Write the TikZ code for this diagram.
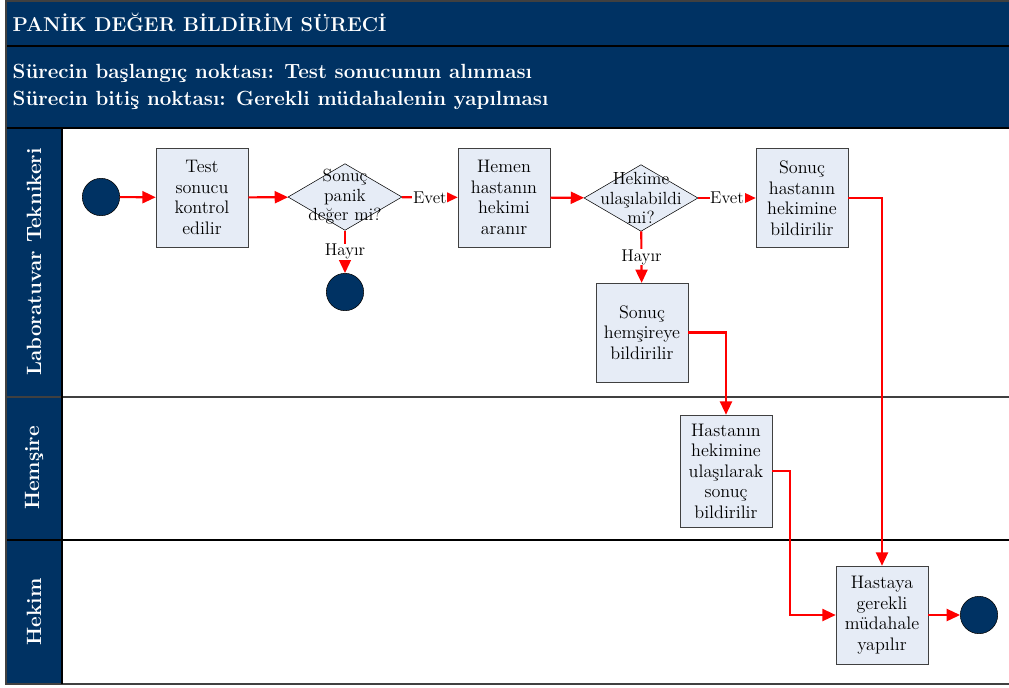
\documentclass[tikz,border=0pt]{standalone}
\usetikzlibrary{shapes.geometric, arrows.meta}

\definecolor{navy}{RGB}{0,50,99}
\definecolor{boxfill}{RGB}{230,236,246}

\begin{document}
\begin{tikzpicture}[x=0.75pt, y=-0.75pt,
    task/.style={draw=black!75, fill=boxfill, minimum width=69pt, minimum height=74pt,
        align=center, inner sep=1pt, font=\fontsize{13.6}{15.4}\selectfont},
    decision/.style={diamond, draw=black, fill=boxfill, minimum width=85.5pt,
        minimum height=50pt, inner sep=0pt},
    dtext/.style={align=center, font=\fontsize{13.2}{14.6}\selectfont},
    event/.style={circle, draw=black, fill=navy, minimum size=28pt, inner sep=0pt},
    flow/.style={draw=red, line width=1.6pt, -{Triangle[length=10pt,width=9pt]}},
    lbl/.style={fill=white, inner sep=0.5pt, font=\fontsize{12.8}{14}\selectfont},
    lane/.style={rotate=90, text=white, font=\bfseries\fontsize{15.5}{17}\selectfont}]
    \useasboundingbox (0,0) rectangle (1009,687);
    \clip (0,0) rectangle (1009,687);

    % header and swimlanes
    \fill[navy] (6,1) rectangle (1015,128);
    \fill[navy] (6,128) rectangle (62,684);
    \draw[black, line width=1.5pt] (6,46) -- (1015,46);
    \draw[black, line width=1.2pt] (6,128) -- (1015,128);
    \draw[black!75, line width=1.5pt] (6,397) -- (1015,397);
    \draw[black, line width=0.8pt] (6,540) -- (1015,540);
    \draw[black!75, line width=1.5pt] (6,1) rectangle (1015,684);
    \draw[black, line width=0.8pt] (62,128) -- (62,684);
    \node[anchor=west, text=white, font=\bfseries\fontsize{15}{17}\selectfont] (title) at (8,22) {PANİK DEĞER BİLDİRİM SÜRECİ};
    \node[anchor=west, align=left, text=white, font=\bfseries\fontsize{15.4}{20.5}\selectfont] (scope) at (8,87)
        {Sürecin başlangıç noktası: Test sonucunun alınması\\Sürecin bitiş noktası: Gerekli müdahalenin yapılması};
    \node[lane] (lablane) at (34,262) {Laboratuvar Teknikeri};
    \node[lane] (nurselane) at (34,468) {Hemşire};
    \node[lane] (doclane) at (34,612) {Hekim};

    % flow nodes
    \node[event] (start) at (101,197) {};
    \node[task] (test) at (202,197.5) {Test\\sonucu\\kontrol\\edilir};
    \node[decision] (panic) at (345,197) {};
    \node[dtext] at (panic) {Sonuç\\panik\\değer mi?};
    \node[event] (stopA) at (345,292) {};
    \node[task] (call) at (504,197.5) {Hemen\\hastanın\\hekimi\\aranır};
    \node[decision] (reach) at (641,198) {};
    \node[dtext] at (reach) {Hekime\\ulaşılabildi\\mi?};
    \node[task] (tellDoc) at (802,198) {Sonuç\\hastanın\\hekimine\\bildirilir};
    \node[task] (tellNurse) at (642,332.5) {Sonuç\\hemşireye\\bildirilir};
    \node[task, minimum height=84pt] (nurseDoc) at (726,471) {Hastanın\\hekimine\\ulaşılarak\\sonuç\\bildirilir};
    \node[task, minimum height=73.5pt] (treat) at (882,615) {Hastaya\\gerekli\\müdahale\\yapılır};
    \node[event] (stopB) at (979,615) {};

    % connectors
    \draw[flow] (start) -- (test);
    \draw[flow] (test) -- (panic);
    \draw[flow] (panic) -- node[lbl] {Evet} (call);
    \draw[flow] (panic) -- node[lbl] {Hayır} (stopA);
    \draw[flow] (call) -- (reach);
    \draw[flow] (reach) -- node[lbl] {Evet} (tellDoc);
    \draw[flow] (reach) -- node[lbl] {Hayır} (tellNurse);
    \draw[flow] (tellNurse.east) -| (nurseDoc.north);
    \draw[flow] (tellDoc.east) -| (treat.north);
    \draw[flow] (nurseDoc.east) -- ++(18,0) |- (treat.west);
    \draw[flow] (treat) -- (stopB);
\end{tikzpicture}
\end{document}
